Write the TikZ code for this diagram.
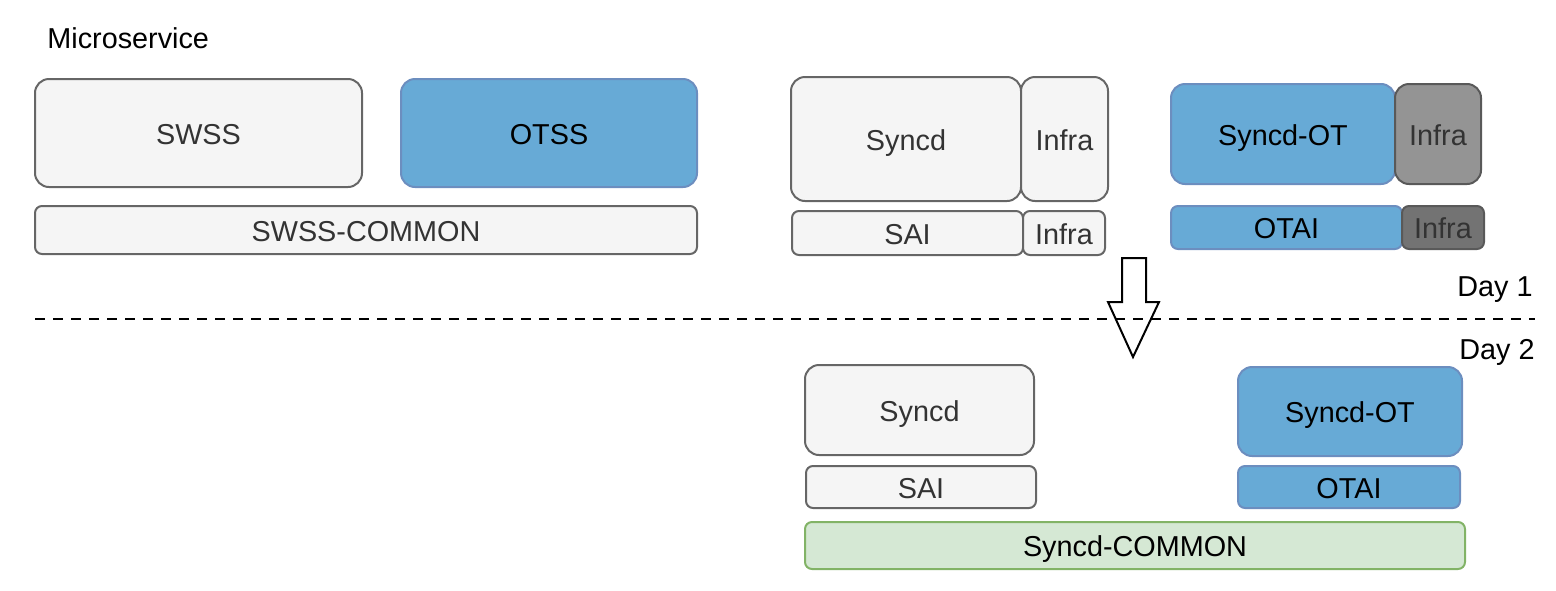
\documentclass[tikz,border=0pt]{standalone}
\usepackage{fontspec}
\setmainfont{Liberation Sans}
\definecolor{greyfill}{HTML}{F5F5F5}
\definecolor{greyline}{HTML}{666666}
\definecolor{greytext}{HTML}{333333}
\definecolor{bluefill}{HTML}{67AAD6}
\definecolor{blueline}{HTML}{6C8EBF}
\definecolor{greenfill}{HTML}{D5E8D4}
\definecolor{greenline}{HTML}{82B366}
\tikzset{
  box/.style={draw, line width=1pt, inner sep=0pt, text height=11pt, text depth=0pt,
    font=\fontsize{14.4}{17}\selectfont},
  big/.style={box, rounded corners=7pt},
  small/.style={box, rounded corners=3.5pt},
  grey/.style={fill=greyfill, draw=greyline, text=greytext},
  blue/.style={fill=bluefill, draw=blueline, text=black},
  label/.style={font=\fontsize{14.4}{17}\selectfont, inner sep=0pt}
}
\begin{document}
\begin{tikzpicture}[x=0.5pt, y=-0.5pt]
	\useasboundingbox (0,0) rectangle (1556,590);

	% Day 1
	\node[label, anchor=west] (title) at (47,38) {Microservice};
	\node[big, grey, minimum width=163.5pt, minimum height=54pt] (swss) at (198.5,133) {SWSS};
	\node[big, blue, minimum width=148pt, minimum height=54pt] (otss) at (549,133) {OTSS};
	\node[small, grey, minimum width=331pt, minimum height=24pt] (swsscom) at (366,230) {SWSS-COMMON};

	\node[big, grey, minimum width=115pt, minimum height=62pt] (syncd) at (906,139) {Syncd};
	\node[big, grey, minimum width=43.5pt, minimum height=62pt] (infraa) at (1064.5,139) {Infra};
	\node[small, grey, minimum width=115.5pt, minimum height=22pt] (sai) at (907.5,233) {SAI};
	\node[small, grey, minimum width=41pt, minimum height=22pt] (infrab) at (1064,233) {Infra};

	\node[big, blue, minimum width=112pt, minimum height=50pt] (syncdot) at (1283,134) {Syncd-OT};
	\node[big, fill=black!42, draw=black!65, text=greytext, minimum width=43pt, minimum height=50pt] (infrac) at (1438,134) {Infra};
	\node[small, blue, minimum width=115.5pt, minimum height=21.5pt] (otai) at (1286.5,227.5) {OTAI};
	\node[small, fill=black!55, draw=black!65, text=greytext, minimum width=41pt, minimum height=21.5pt] (infrad) at (1443,227.5) {Infra};

	% arrow and separator
	\draw[line width=1pt, fill=white] (1122,258) -- (1146,258) -- (1146,302) -- (1159,302)
		-- (1133,357) -- (1108,302) -- (1122,302) -- cycle;
	\coordinate (sepl) at (35,319);
	\coordinate (sepr) at (1535,319);
	\draw[line width=1pt, dashed, dash pattern=on 5pt off 4pt] (sepl) -- (sepr);
	\node[label, anchor=east] (day1) at (1533,290) {Day 1};
	\node[label, anchor=east] (day2) at (1535,352) {Day 2};

	% Day 2
	\node[big, grey, minimum width=114.5pt, minimum height=45pt] (syncdn) at (919.5,410) {Syncd};
	\node[small, grey, minimum width=115pt, minimum height=21pt] (sain) at (921,487) {SAI};
	\node[big, blue, minimum width=112pt, minimum height=44.5pt] (syncdotn) at (1350,411.5) {Syncd-OT};
	\node[small, blue, minimum width=111pt, minimum height=21pt] (otain) at (1349,487) {OTAI};
	\node[small, fill=greenfill, draw=greenline, text=black, minimum width=330pt, minimum height=23.5pt] (synccom) at (1135,545.5) {Syncd-COMMON};

\end{tikzpicture}
\end{document}
